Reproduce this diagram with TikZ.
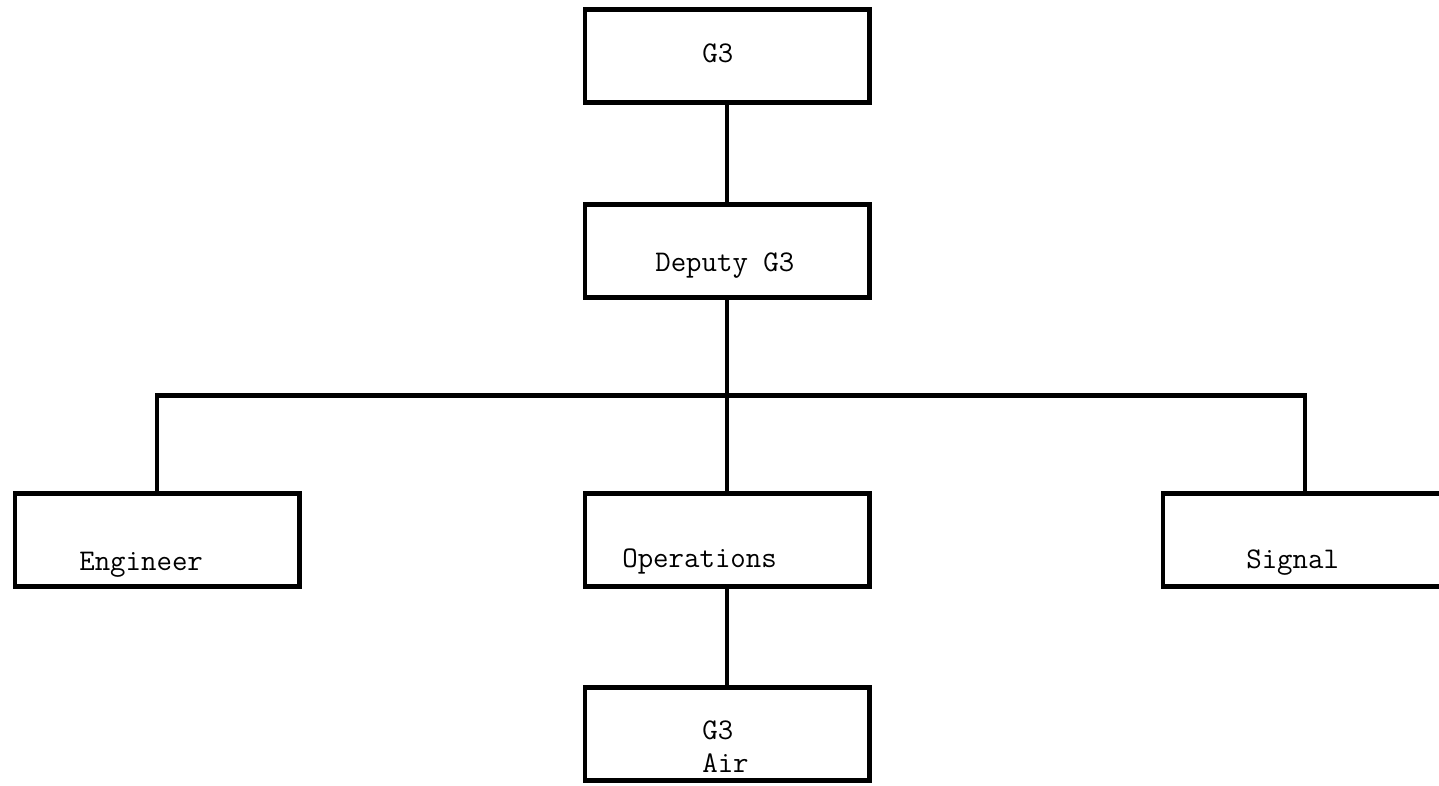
\documentclass[tikz,border=0pt]{standalone}
\usepackage{fontspec}
\usepackage{tikz}
\usetikzlibrary{positioning,calc}

\begin{document}
\begin{tikzpicture}[line width=4.6pt,
  unit/.style={draw, minimum width=284.4pt, minimum height=93.4pt, inner sep=0pt},
  tag/.style={inner sep=0pt, anchor=base west, font=\ttfamily\fontsize{30}{33}\selectfont}]
\useasboundingbox (0pt,0pt) rectangle (1439pt,-785pt);

\node (g3) [unit] at (727pt,-56pt) {};
\node (deputy) [unit, below=97pt of g3] {};
\node (operations) [unit, below=191pt of deputy] {};
\node (engineer) [unit, left=281pt of operations] {};
\node (signal) [unit, right=289pt of operations] {};
\node (air) [unit, below=96pt of operations] {};

\node (g3text) [tag] at ([shift={(117.5pt,-6pt)}]g3.west) {G3};
\node (deputytext) [tag] at ([shift={(70.5pt,-20.5pt)}]deputy.west) {Deputy G3};
\node (engineertext) [tag] at ([shift={(64.5pt,-30pt)}]engineer.west) {Engineer};
\node (operationstext) [tag] at ([shift={(37.5pt,-27pt)}]operations.west) {Operations};
\node (signaltext) [tag] at ([shift={(83.5pt,-28pt)}]signal.west) {Signal};
\node (airtext) [tag, anchor=west, align=left] at ([shift={(117.5pt,-13pt)}]air.west) {G3\\Air};

\coordinate (bus) at ($(deputy.south)!0.5!(operations.north)$);

\draw (g3) to (deputy);
\draw (deputy) to (operations);
\draw (engineer.north) |- (bus) -| (signal.north);
\draw (operations) to (air);
\end{tikzpicture}
\end{document}
